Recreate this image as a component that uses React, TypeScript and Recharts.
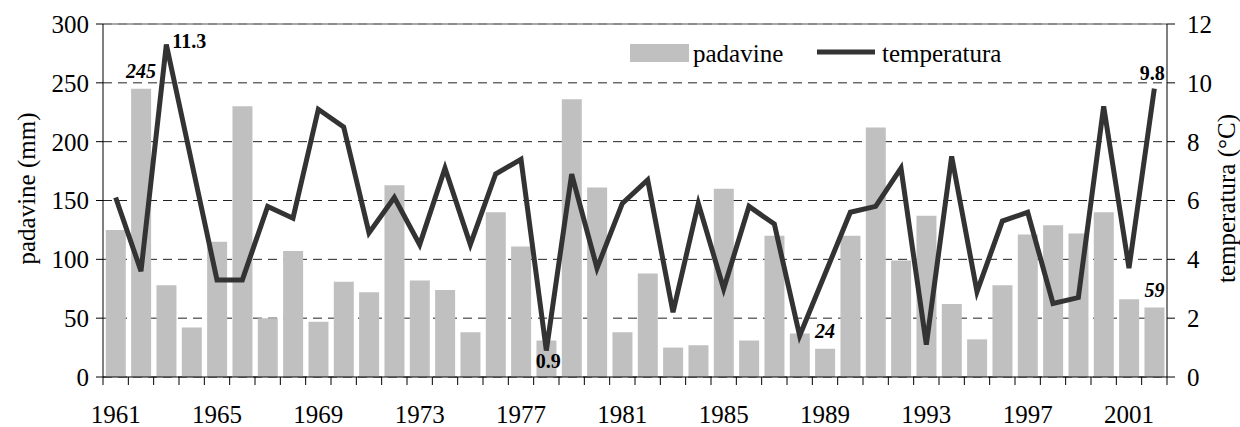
import React from 'react';
import {
  ComposedChart,
  Bar,
  Line,
  XAxis,
  YAxis,
  CartesianGrid,
  ReferenceLine,
  LabelList,
  Legend,
  Label,
} from 'recharts';

const years = [
  1961, 1962, 1963, 1964, 1965, 1966, 1967, 1968, 1969, 1970, 1971, 1972, 1973, 1974,
  1975, 1976, 1977, 1978, 1979, 1980, 1981, 1982, 1983, 1984, 1985, 1986, 1987, 1988,
  1989, 1990, 1991, 1992, 1993, 1994, 1995, 1996, 1997, 1998, 1999, 2000, 2001, 2002,
];

const padavine = [
  125, 245, 78, 42, 115, 230, 50, 107, 47, 81, 72, 163, 82, 74,
  38, 140, 111, 31, 236, 161, 38, 88, 25, 27, 160, 31, 120, 37,
  24, 120, 212, 99, 137, 62, 32, 78, 121, 129, 122, 140, 66, 59,
];

const temperatura = [
  6.1, 3.6, 11.3, 7.3, 3.3, 3.3, 5.8, 5.4, 9.1, 8.5, 4.9, 6.1, 4.5, 7.1,
  4.5, 6.9, 7.4, 0.9, 6.9, 3.7, 5.9, 6.7, 2.2, 5.9, 3.0, 5.8, 5.2, 1.4,
  3.5, 5.6, 5.8, 7.1, 1.1, 7.5, 2.9, 5.3, 5.6, 2.5, 2.7, 9.2, 3.7, 9.8,
];

const xTickLabels = ['1961', '1965', '1969', '1973', '1977', '1981', '1985', '1989', '1993', '1997', '2001'];
const leftTicks = [0, 50, 100, 150, 200, 250, 300];
const rightTicks = [0, 2, 4, 6, 8, 10, 12];

const barLabelYears = [1962, 1989, 2002];
const lineLabelYears = [1963, 1978, 2002];

const data = years.map((y, i) => ({
  year: String(y),
  padavine: padavine[i],
  temperatura: temperatura[i],
}));

const W = 1240;
const H = 427;
const LEFT_W = 103;
const RIGHT_W = 73;
const FONT = "'Liberation Serif', 'Times New Roman', serif";
const BAND = (W - LEFT_W - RIGHT_W) / years.length;

const XTick = (props: any) => {
  const { x, y, payload, index } = props;
  const half = (payload && payload.offset) || BAND / 2;
  const axisY = y - 8;
  const label = payload.value;
  const isLast = index === years.length - 1;
  return (
    <g>
      <line x1={x - half} x2={x - half} y1={axisY} y2={axisY + 8} stroke="#000" strokeWidth={1} />
      {isLast && (
        <line x1={x + half} x2={x + half} y1={axisY} y2={axisY + 8} stroke="#000" strokeWidth={1} />
      )}
      {xTickLabels.includes(label) && (
        <text x={x} y={axisY + 46} textAnchor="middle" fontFamily={FONT} fontSize={25} fill="#000">
          {label}
        </text>
      )}
    </g>
  );
};

const BarLabel = (props: any) => {
  const { x, y, width, index, value } = props;
  if (!barLabelYears.includes(years[index])) return null;
  return (
    <text
      x={x + width / 2}
      y={y - 11}
      textAnchor="middle"
      fontFamily={FONT}
      fontSize={20}
      fontWeight="bold"
      fontStyle="italic"
      fill="#000"
    >
      {value}
    </text>
  );
};

const LineLabel = (props: any) => {
  const { x, y, index, value } = props;
  const yr = years[index];
  if (!lineLabelYears.includes(yr)) return null;
  let tx = x;
  let ty = y;
  let anchor: 'start' | 'middle' | 'end' = 'middle';
  if (yr === 1963) {
    tx = x + 6;
    ty = y + 3;
    anchor = 'start';
  } else if (yr === 1978) {
    tx = x + 2;
    ty = y + 17;
  } else {
    tx = x - 2;
    ty = y - 9;
  }
  return (
    <text x={tx} y={ty} textAnchor={anchor} fontFamily={FONT} fontSize={20} fontWeight="bold" fill="#000">
      {Number(value).toFixed(1)}
    </text>
  );
};

const renderLegend = (props: any) => {
  const payload = props.payload || [];
  return (
    <svg width={420} height={36} style={{ display: 'block' }}>
      {payload.map((p: any, i: number) => {
        const x0 = i === 0 ? 4 : 191;
        const textX = i === 0 ? 67 : 256;
        return (
          <g key={p.value}>
            {p.type === 'line' ? (
              <line x1={x0} x2={x0 + 58} y1={14} y2={14} stroke={p.color} strokeWidth={5} />
            ) : (
              <rect x={x0} y={6} width={59} height={18} fill={p.color} />
            )}
            <text x={textX} y={24} fontFamily={FONT} fontSize={25} fill="#000">
              {p.value}
            </text>
          </g>
        );
      })}
    </svg>
  );
};

const LeftTitle = (props: any) => {
  const vb = props.viewBox || { x: 0, y: 24, width: LEFT_W, height: 353 };
  const cx = vb.x + 26;
  const cy = vb.y + vb.height / 2 - 12;
  return (
    <text
      x={cx}
      y={cy}
      transform={`rotate(-90, ${cx}, ${cy})`}
      textAnchor="middle"
      dominantBaseline="central"
      fontFamily={FONT}
      fontSize={25}
      fill="#000"
    >
      padavine (mm)
    </text>
  );
};

const RightTitle = (props: any) => {
  const vb = props.viewBox || { x: W - RIGHT_W, y: 24, width: RIGHT_W, height: 353 };
  const cx = vb.x + 59;
  const cy = vb.y + vb.height / 2 - 2;
  return (
    <text
      x={cx}
      y={cy}
      transform={`rotate(-90, ${cx}, ${cy})`}
      textAnchor="middle"
      dominantBaseline="central"
      fontFamily={FONT}
      fontSize={25}
      fill="#000"
    >
      temperatura (°C)
    </text>
  );
};

export default function App() {
  return (
    <div style={{ position: 'absolute', left: 0, top: 0, width: W, height: H, background: '#fff' }}>
      <ComposedChart
        width={W}
        height={H}
        data={data}
        margin={{ top: 24, right: 0, bottom: 0, left: 0 }}
        barCategoryGap="11%"
      >
        <CartesianGrid
          yAxisId="left"
          vertical={false}
          stroke="#222"
          strokeDasharray="9 6"
        />
        <XAxis
          dataKey="year"
          interval={0}
          height={50}
          tickSize={8}
          tickMargin={0}
          tickLine={false}
          axisLine={{ stroke: '#000' }}
          tick={<XTick />}
        />
        <YAxis
          yAxisId="left"
          orientation="left"
          width={LEFT_W}
          domain={[0, 300]}
          ticks={leftTicks}
          interval={0}
          tickSize={7}
          tickMargin={7}
          axisLine={{ stroke: '#000' }}
          tickLine={{ stroke: '#000' }}
          tick={{ fill: '#000', fontSize: 25, fontFamily: FONT }}
        >
          <Label content={<LeftTitle />} />
        </YAxis>
        <YAxis
          yAxisId="right"
          orientation="right"
          width={RIGHT_W}
          domain={[0, 12]}
          ticks={rightTicks}
          interval={0}
          tickSize={8}
          tickMargin={12}
          axisLine={{ stroke: '#000' }}
          tickLine={{ stroke: '#000' }}
          tick={{ fill: '#000', fontSize: 25, fontFamily: FONT, textAnchor: 'start' }}
        >
          <Label content={<RightTitle />} />
        </YAxis>
        <ReferenceLine yAxisId="left" y={300} stroke="#8c8c8c" strokeWidth={1.5} />
        <Legend
          layout="horizontal"
          verticalAlign="middle"
          align="center"
          content={renderLegend}
          wrapperStyle={{ left: 626, top: 38, width: 420, height: 36 }}
        />
        <Bar
          yAxisId="left"
          dataKey="padavine"
          name="padavine"
          fill="#c0c0c0"
          isAnimationActive={false}
        >
          <LabelList dataKey="padavine" content={<BarLabel />} />
        </Bar>
        <Line
          yAxisId="right"
          type="linear"
          dataKey="temperatura"
          name="temperatura"
          stroke="#333333"
          strokeWidth={5}
          dot={false}
          activeDot={false}
          legendType="line"
          isAnimationActive={false}
        >
          <LabelList dataKey="temperatura" content={<LineLabel />} />
        </Line>
      </ComposedChart>
    </div>
  );
}
